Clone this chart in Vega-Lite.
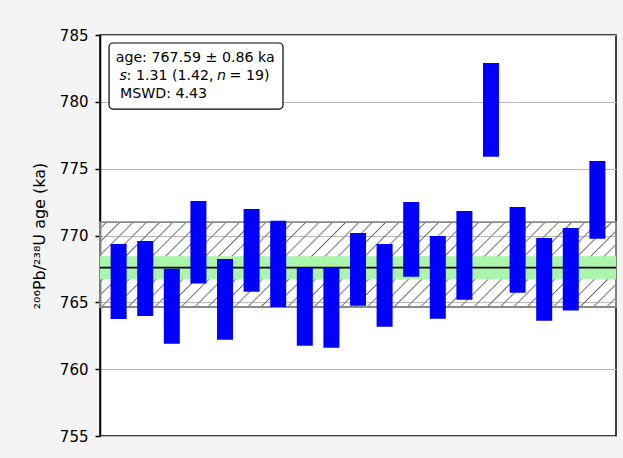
{
  "$schema": "https://vega.github.io/schema/vega-lite/v6.json",
  "autosize": "none",
  "width": 516,
  "height": 401,
  "padding": {"left": 100, "top": 35, "right": 7, "bottom": 22},
  "background": "#f4f4f4",
  "config": {
    "view": {"stroke": "black", "strokeWidth": 1.5, "fill": "white"},
    "font": "DejaVu Sans"
  },
  "datasets": {
    "analyses": [
      {"i": 1, "lo": 763.75, "hi": 769.36},
      {"i": 2, "lo": 763.98, "hi": 769.59},
      {"i": 3, "lo": 761.91, "hi": 767.52},
      {"i": 4, "lo": 766.40, "hi": 772.58},
      {"i": 5, "lo": 762.21, "hi": 768.24},
      {"i": 6, "lo": 765.80, "hi": 771.98},
      {"i": 7, "lo": 764.65, "hi": 771.11},
      {"i": 8, "lo": 761.76, "hi": 767.59},
      {"i": 9, "lo": 761.61, "hi": 767.64},
      {"i": 10, "lo": 764.75, "hi": 770.19},
      {"i": 11, "lo": 763.18, "hi": 769.36},
      {"i": 12, "lo": 766.92, "hi": 772.51},
      {"i": 13, "lo": 763.78, "hi": 769.96},
      {"i": 14, "lo": 765.20, "hi": 771.83},
      {"i": 15, "lo": 775.90, "hi": 782.91},
      {"i": 16, "lo": 765.72, "hi": 772.13},
      {"i": 17, "lo": 763.63, "hi": 769.81},
      {"i": 18, "lo": 764.38, "hi": 770.56},
      {"i": 19, "lo": 769.76, "hi": 775.57}
    ],
    "labels": [
      {"t": "age: 767.59 ± 0.86 ka", "px": 0.89, "py": 782.98, "st": "normal"},
      {"t": "s", "px": 1.03, "py": 781.63, "st": "italic"},
      {"t": ": 1.31 (1.42,", "px": 1.3, "py": 781.63, "st": "normal"},
      {"t": "n", "px": 4.7, "py": 781.63, "st": "italic"},
      {"t": "= 19)", "px": 5.17, "py": 781.63, "st": "normal"},
      {"t": "MSWD: 4.43", "px": 1.05, "py": 780.29, "st": "normal"}
    ]
  },
  "layer": [
    {
      "data": {"values": [{"lo": 764.65, "hi": 771.0}]},
      "mark": {
        "type": "rect",
        "stroke": "#8a8a8a",
        "strokeWidth": 1.8,
        "fill": {
          "gradient": "linear", "x1": 0, "y1": 0, "x2": 1.14, "y2": 0.1876,
          "stops": [
            {"offset": 0.0, "color": "rgba(255,255,255,0)"},
            {"offset": 0.0077, "color": "rgba(255,255,255,0)"}, {"offset": 0.011, "color": "#666666"}, {"offset": 0.0143, "color": "rgba(255,255,255,0)"},
            {"offset": 0.0297, "color": "rgba(255,255,255,0)"}, {"offset": 0.033, "color": "#666666"}, {"offset": 0.0363, "color": "rgba(255,255,255,0)"},
            {"offset": 0.0517, "color": "rgba(255,255,255,0)"}, {"offset": 0.055, "color": "#666666"}, {"offset": 0.0583, "color": "rgba(255,255,255,0)"},
            {"offset": 0.0737, "color": "rgba(255,255,255,0)"}, {"offset": 0.077, "color": "#666666"}, {"offset": 0.0803, "color": "rgba(255,255,255,0)"},
            {"offset": 0.0957, "color": "rgba(255,255,255,0)"}, {"offset": 0.099, "color": "#666666"}, {"offset": 0.1023, "color": "rgba(255,255,255,0)"},
            {"offset": 0.1177, "color": "rgba(255,255,255,0)"}, {"offset": 0.121, "color": "#666666"}, {"offset": 0.1243, "color": "rgba(255,255,255,0)"},
            {"offset": 0.1397, "color": "rgba(255,255,255,0)"}, {"offset": 0.143, "color": "#666666"}, {"offset": 0.1463, "color": "rgba(255,255,255,0)"},
            {"offset": 0.1617, "color": "rgba(255,255,255,0)"}, {"offset": 0.165, "color": "#666666"}, {"offset": 0.1683, "color": "rgba(255,255,255,0)"},
            {"offset": 0.1837, "color": "rgba(255,255,255,0)"}, {"offset": 0.187, "color": "#666666"}, {"offset": 0.1903, "color": "rgba(255,255,255,0)"},
            {"offset": 0.2057, "color": "rgba(255,255,255,0)"}, {"offset": 0.209, "color": "#666666"}, {"offset": 0.2123, "color": "rgba(255,255,255,0)"},
            {"offset": 0.2277, "color": "rgba(255,255,255,0)"}, {"offset": 0.231, "color": "#666666"}, {"offset": 0.2343, "color": "rgba(255,255,255,0)"},
            {"offset": 0.2497, "color": "rgba(255,255,255,0)"}, {"offset": 0.253, "color": "#666666"}, {"offset": 0.2563, "color": "rgba(255,255,255,0)"},
            {"offset": 0.2717, "color": "rgba(255,255,255,0)"}, {"offset": 0.275, "color": "#666666"}, {"offset": 0.2783, "color": "rgba(255,255,255,0)"},
            {"offset": 0.2937, "color": "rgba(255,255,255,0)"}, {"offset": 0.297, "color": "#666666"}, {"offset": 0.3003, "color": "rgba(255,255,255,0)"},
            {"offset": 0.3157, "color": "rgba(255,255,255,0)"}, {"offset": 0.319, "color": "#666666"}, {"offset": 0.3223, "color": "rgba(255,255,255,0)"},
            {"offset": 0.3377, "color": "rgba(255,255,255,0)"}, {"offset": 0.341, "color": "#666666"}, {"offset": 0.3443, "color": "rgba(255,255,255,0)"},
            {"offset": 0.3597, "color": "rgba(255,255,255,0)"}, {"offset": 0.363, "color": "#666666"}, {"offset": 0.3663, "color": "rgba(255,255,255,0)"},
            {"offset": 0.3817, "color": "rgba(255,255,255,0)"}, {"offset": 0.385, "color": "#666666"}, {"offset": 0.3883, "color": "rgba(255,255,255,0)"},
            {"offset": 0.4037, "color": "rgba(255,255,255,0)"}, {"offset": 0.407, "color": "#666666"}, {"offset": 0.4103, "color": "rgba(255,255,255,0)"},
            {"offset": 0.4257, "color": "rgba(255,255,255,0)"}, {"offset": 0.429, "color": "#666666"}, {"offset": 0.4323, "color": "rgba(255,255,255,0)"},
            {"offset": 0.4477, "color": "rgba(255,255,255,0)"}, {"offset": 0.451, "color": "#666666"}, {"offset": 0.4543, "color": "rgba(255,255,255,0)"},
            {"offset": 0.4697, "color": "rgba(255,255,255,0)"}, {"offset": 0.473, "color": "#666666"}, {"offset": 0.4763, "color": "rgba(255,255,255,0)"},
            {"offset": 0.4917, "color": "rgba(255,255,255,0)"}, {"offset": 0.495, "color": "#666666"}, {"offset": 0.4983, "color": "rgba(255,255,255,0)"},
            {"offset": 0.5137, "color": "rgba(255,255,255,0)"}, {"offset": 0.517, "color": "#666666"}, {"offset": 0.5203, "color": "rgba(255,255,255,0)"},
            {"offset": 0.5357, "color": "rgba(255,255,255,0)"}, {"offset": 0.539, "color": "#666666"}, {"offset": 0.5423, "color": "rgba(255,255,255,0)"},
            {"offset": 0.5577, "color": "rgba(255,255,255,0)"}, {"offset": 0.561, "color": "#666666"}, {"offset": 0.5643, "color": "rgba(255,255,255,0)"},
            {"offset": 0.5797, "color": "rgba(255,255,255,0)"}, {"offset": 0.583, "color": "#666666"}, {"offset": 0.5863, "color": "rgba(255,255,255,0)"},
            {"offset": 0.6017, "color": "rgba(255,255,255,0)"}, {"offset": 0.605, "color": "#666666"}, {"offset": 0.6083, "color": "rgba(255,255,255,0)"},
            {"offset": 0.6237, "color": "rgba(255,255,255,0)"}, {"offset": 0.627, "color": "#666666"}, {"offset": 0.6303, "color": "rgba(255,255,255,0)"},
            {"offset": 0.6457, "color": "rgba(255,255,255,0)"}, {"offset": 0.649, "color": "#666666"}, {"offset": 0.6523, "color": "rgba(255,255,255,0)"},
            {"offset": 0.6677, "color": "rgba(255,255,255,0)"}, {"offset": 0.671, "color": "#666666"}, {"offset": 0.6743, "color": "rgba(255,255,255,0)"},
            {"offset": 0.6897, "color": "rgba(255,255,255,0)"}, {"offset": 0.693, "color": "#666666"}, {"offset": 0.6963, "color": "rgba(255,255,255,0)"},
            {"offset": 0.7117, "color": "rgba(255,255,255,0)"}, {"offset": 0.715, "color": "#666666"}, {"offset": 0.7183, "color": "rgba(255,255,255,0)"},
            {"offset": 0.7337, "color": "rgba(255,255,255,0)"}, {"offset": 0.737, "color": "#666666"}, {"offset": 0.7403, "color": "rgba(255,255,255,0)"},
            {"offset": 0.7557, "color": "rgba(255,255,255,0)"}, {"offset": 0.759, "color": "#666666"}, {"offset": 0.7623, "color": "rgba(255,255,255,0)"},
            {"offset": 0.7777, "color": "rgba(255,255,255,0)"}, {"offset": 0.781, "color": "#666666"}, {"offset": 0.7843, "color": "rgba(255,255,255,0)"},
            {"offset": 0.7997, "color": "rgba(255,255,255,0)"}, {"offset": 0.803, "color": "#666666"}, {"offset": 0.8063, "color": "rgba(255,255,255,0)"},
            {"offset": 0.8217, "color": "rgba(255,255,255,0)"}, {"offset": 0.825, "color": "#666666"}, {"offset": 0.8283, "color": "rgba(255,255,255,0)"},
            {"offset": 0.8437, "color": "rgba(255,255,255,0)"}, {"offset": 0.847, "color": "#666666"}, {"offset": 0.8503, "color": "rgba(255,255,255,0)"},
            {"offset": 0.8657, "color": "rgba(255,255,255,0)"}, {"offset": 0.869, "color": "#666666"}, {"offset": 0.8723, "color": "rgba(255,255,255,0)"},
            {"offset": 0.8877, "color": "rgba(255,255,255,0)"}, {"offset": 0.891, "color": "#666666"}, {"offset": 0.8943, "color": "rgba(255,255,255,0)"},
            {"offset": 0.9097, "color": "rgba(255,255,255,0)"}, {"offset": 0.913, "color": "#666666"}, {"offset": 0.9163, "color": "rgba(255,255,255,0)"},
            {"offset": 0.9317, "color": "rgba(255,255,255,0)"}, {"offset": 0.935, "color": "#666666"}, {"offset": 0.9383, "color": "rgba(255,255,255,0)"},
            {"offset": 0.9537, "color": "rgba(255,255,255,0)"}, {"offset": 0.957, "color": "#666666"}, {"offset": 0.9603, "color": "rgba(255,255,255,0)"},
            {"offset": 0.9757, "color": "rgba(255,255,255,0)"}, {"offset": 0.979, "color": "#666666"}, {"offset": 0.9823, "color": "rgba(255,255,255,0)"},
            {"offset": 1.0, "color": "rgba(255,255,255,0)"}
          ]
        }
      },
      "encoding": {
        "x": {"datum": 0.3, "type": "quantitative", "scale": {"domain": [0.3, 19.7], "nice": false, "zero": false}, "axis": null},
        "x2": {"datum": 19.7},
        "y": {
          "field": "lo", "type": "quantitative",
          "scale": {"domain": [755, 785], "nice": false, "zero": false},
          "axis": {
            "title": "²⁰⁶Pb/²³⁸U age (ka)",
            "values": [755, 760, 765, 770, 775, 780, 785],
            "grid": true, "gridColor": "#b8b8b8", "gridWidth": 1.2,
            "domainColor": "black", "domainWidth": 1.5,
            "tickColor": "black", "tickWidth": 1.5, "tickSize": 5,
            "labelFontSize": 15, "labelColor": "black", "labelPadding": 7,
            "titleFontSize": 16, "titleFontWeight": "normal", "titleColor": "black", "titlePadding": 12
          }
        },
        "y2": {"field": "hi"}
      }
    },
    {
      "data": {"values": [{"lo": 766.73, "hi": 768.45}]},
      "mark": {"type": "rect", "fill": "#aaf5aa"},
      "encoding": {
        "x": {"datum": 0.3, "type": "quantitative"},
        "x2": {"datum": 19.7},
        "y": {"field": "lo", "type": "quantitative"},
        "y2": {"field": "hi"}
      }
    },
    {
      "data": {"values": [{"mean": 767.59}]},
      "mark": {"type": "rule", "color": "black", "strokeWidth": 1.8},
      "encoding": {"y": {"field": "mean", "type": "quantitative"}}
    },
    {
      "data": {"name": "analyses"},
      "mark": {"type": "rule", "color": "#0000ff", "strokeWidth": 16, "strokeCap": "butt"},
      "encoding": {
        "x": {"field": "i", "type": "quantitative"},
        "y": {"field": "lo", "type": "quantitative"},
        "y2": {"field": "hi"}
      }
    },
    {
      "data": {"values": [{}]},
      "mark": {"type": "rect", "fill": "white", "stroke": "black", "strokeWidth": 1.2, "cornerRadius": 4},
      "encoding": {
        "x": {"datum": 0.64, "type": "quantitative"},
        "x2": {"datum": 7.18},
        "y": {"datum": 784.4, "type": "quantitative"},
        "y2": {"datum": 779.46}
      }
    },
    {
      "data": {"name": "labels"},
      "transform": [{"filter": "datum.st === 'normal'"}],
      "mark": {"type": "text", "align": "left", "baseline": "alphabetic", "fontSize": 14.2, "color": "black"},
      "encoding": {
        "x": {"field": "px", "type": "quantitative"},
        "y": {"field": "py", "type": "quantitative"},
        "text": {"field": "t"}
      }
    },
    {
      "data": {"name": "labels"},
      "transform": [{"filter": "datum.st === 'italic'"}],
      "mark": {"type": "text", "align": "left", "baseline": "alphabetic", "fontSize": 14.2, "fontStyle": "italic", "color": "black"},
      "encoding": {
        "x": {"field": "px", "type": "quantitative"},
        "y": {"field": "py", "type": "quantitative"},
        "text": {"field": "t"}
      }
    }
  ]
}
